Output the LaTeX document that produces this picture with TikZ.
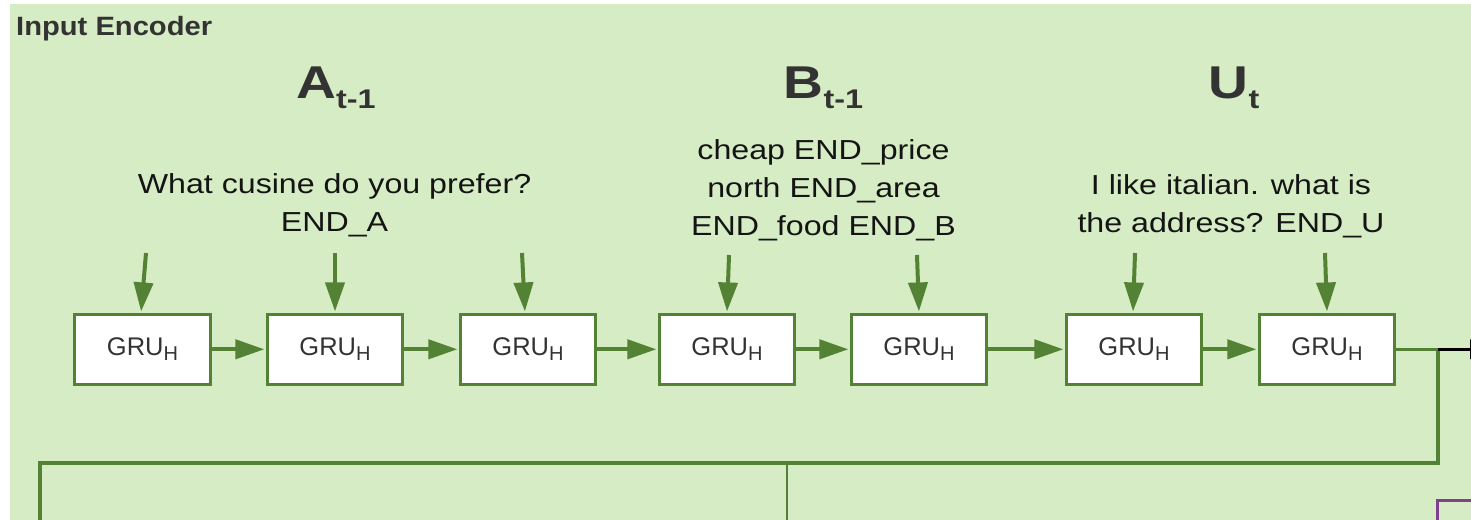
\documentclass[tikz,border=0pt]{standalone}
\usepackage{fontspec}
\setmainfont{Liberation Sans}
\newfontfamily\bodyfont[FakeStretch=1.17]{Liberation Sans}
\newfontfamily\headfont[FakeStretch=1.1]{Liberation Sans}
\newfontfamily\titlefont[FakeStretch=1.2]{Liberation Sans}
\usetikzlibrary{arrows.meta,calc}

\definecolor{panelgreen}{RGB}{213,236,196}
\definecolor{wiregreen}{RGB}{84,130,53}
\definecolor{inkgray}{RGB}{51,51,51}
\definecolor{inkdark}{RGB}{20,20,20}
\definecolor{framepurple}{RGB}{128,64,144}

% GRU cell label with its subscript
\newcommand{\gruH}{GRU\raisebox{-5pt}{\fontsize{20}{22}\selectfont H}}
% lowered subscript used in the sequence titles
\newcommand{\titlesub}[1]{\raisebox{-10pt}{\fontsize{27}{30}\selectfont #1}}

\tikzset{
  gru/.style={draw=wiregreen, line width=3.3pt, fill=white,
    minimum width=135.5pt, minimum height=70pt, inner sep=0pt,
    text=inkgray, font=\fontsize{25.5}{28}\selectfont},
  flow/.style={draw=wiregreen, line width=4pt, shorten >=1.2pt,
    -{Triangle[length=29pt,width=19pt]}},
  wire/.style={draw=wiregreen, line width=3.3pt},
  caption/.style={align=center, anchor=base, inner sep=0pt, text=inkdark,
    font=\bodyfont\fontsize{27.5}{38}\selectfont},
  seqtitle/.style={anchor=base, inner sep=0pt, text=inkgray,
    font=\titlefont\bfseries\fontsize{46}{50}\selectfont},
}

\begin{document}
\begin{tikzpicture}[x=1pt,y=-1pt]
  \useasboundingbox (0,0) rectangle (1471,519);
  \clip (0,0) rectangle (1471,519);

  % panel
  \fill[panelgreen] (10,4) rectangle (1480,530);
  \node[anchor=base west, inner sep=0pt, text=inkgray,
        font=\headfont\bfseries\fontsize{26.5}{30}\selectfont]
        (head) at (16,36) {Input Encoder};

  % sequence titles
  \node[seqtitle] (ta) at (336,98) {A\titlesub{t-1}};
  \node[seqtitle] (tb) at (823.5,98) {B\titlesub{t-1}};
  \node[seqtitle] (tu) at (1234,98) {U\titlesub{t}};

  % token captions (placed by the baseline of their last line)
  \node[caption] (ca) at (334.5,231) {What cusine do you prefer?\\END\_A};
  \node[caption] (cb) at (823.5,235) {cheap END\_price\\north END\_area\\END\_food END\_B};
  \node[caption] (cu) at (1231,232) {I like italian. what is\\the address? END\_U};

  % GRU chain
  \node[gru] (g1) at (142.5,349.3) {\gruH};
  \node[gru] (g2) at (335,349.3) {\gruH};
  \node[gru] (g3) at (528,349.3) {\gruH};
  \node[gru] (g4) at (727,349.3) {\gruH};
  \node[gru] (g5) at (919,349.3) {\gruH};
  \node[gru] (g6) at (1134,349.3) {\gruH};
  \node[gru] (g7) at (1327,349.3) {\gruH};

  % token inputs
  \coordinate (i1) at (146,253);
  \coordinate (i2) at (335,253);
  \coordinate (i3) at (522,253);
  \coordinate (i4) at (729,255);
  \coordinate (i5) at (917,255);
  \coordinate (i6) at (1135,253);
  \coordinate (i7) at (1325,253);
  \draw[flow] (i1) -- ([xshift=-1.5pt]g1.north);
  \draw[flow] (i2) -- (g2.north);
  \draw[flow] (i3) -- ([xshift=-3pt]g3.north);
  \draw[flow] (i4) -- (g4.north);
  \draw[flow] (i5) -- (g5.north);
  \draw[flow] (i6) -- ([xshift=-1pt]g6.north);
  \draw[flow] (i7) -- (g7.north);

  % recurrent links
  \draw[flow] (g1.east) -- (g2.west);
  \draw[flow] (g2.east) -- (g3.west);
  \draw[flow] (g3.east) -- (g4.west);
  \draw[flow] (g4.east) -- (g5.west);
  \draw[flow] (g5.east) -- (g6.west);
  \draw[flow] (g6.east) -- (g7.west);

  % final state routing
  \coordinate (jR) at (1438,349.3);
  \coordinate (cR) at (1438,463);
  \coordinate (cL) at (40,463);
  \coordinate (dL) at (40,540);
  \coordinate (jM) at (787,463);
  \coordinate (dM) at (787,540);
  \coordinate (outR) at (1499,349.3);
  \draw[wire] (g7.east) -- (jR) -- (cR) -- (cL) -- (dL);
  \draw[draw=wiregreen, line width=2.2pt] (jM) -- (dM);
  \draw[black, line width=3.3pt, -{Triangle[length=29pt,width=19pt]}] (jR) -- (outR);

  % next block, partly visible
  \draw[framepurple, line width=3pt] (1437,500) rectangle (1600,620);
\end{tikzpicture}
\end{document}
